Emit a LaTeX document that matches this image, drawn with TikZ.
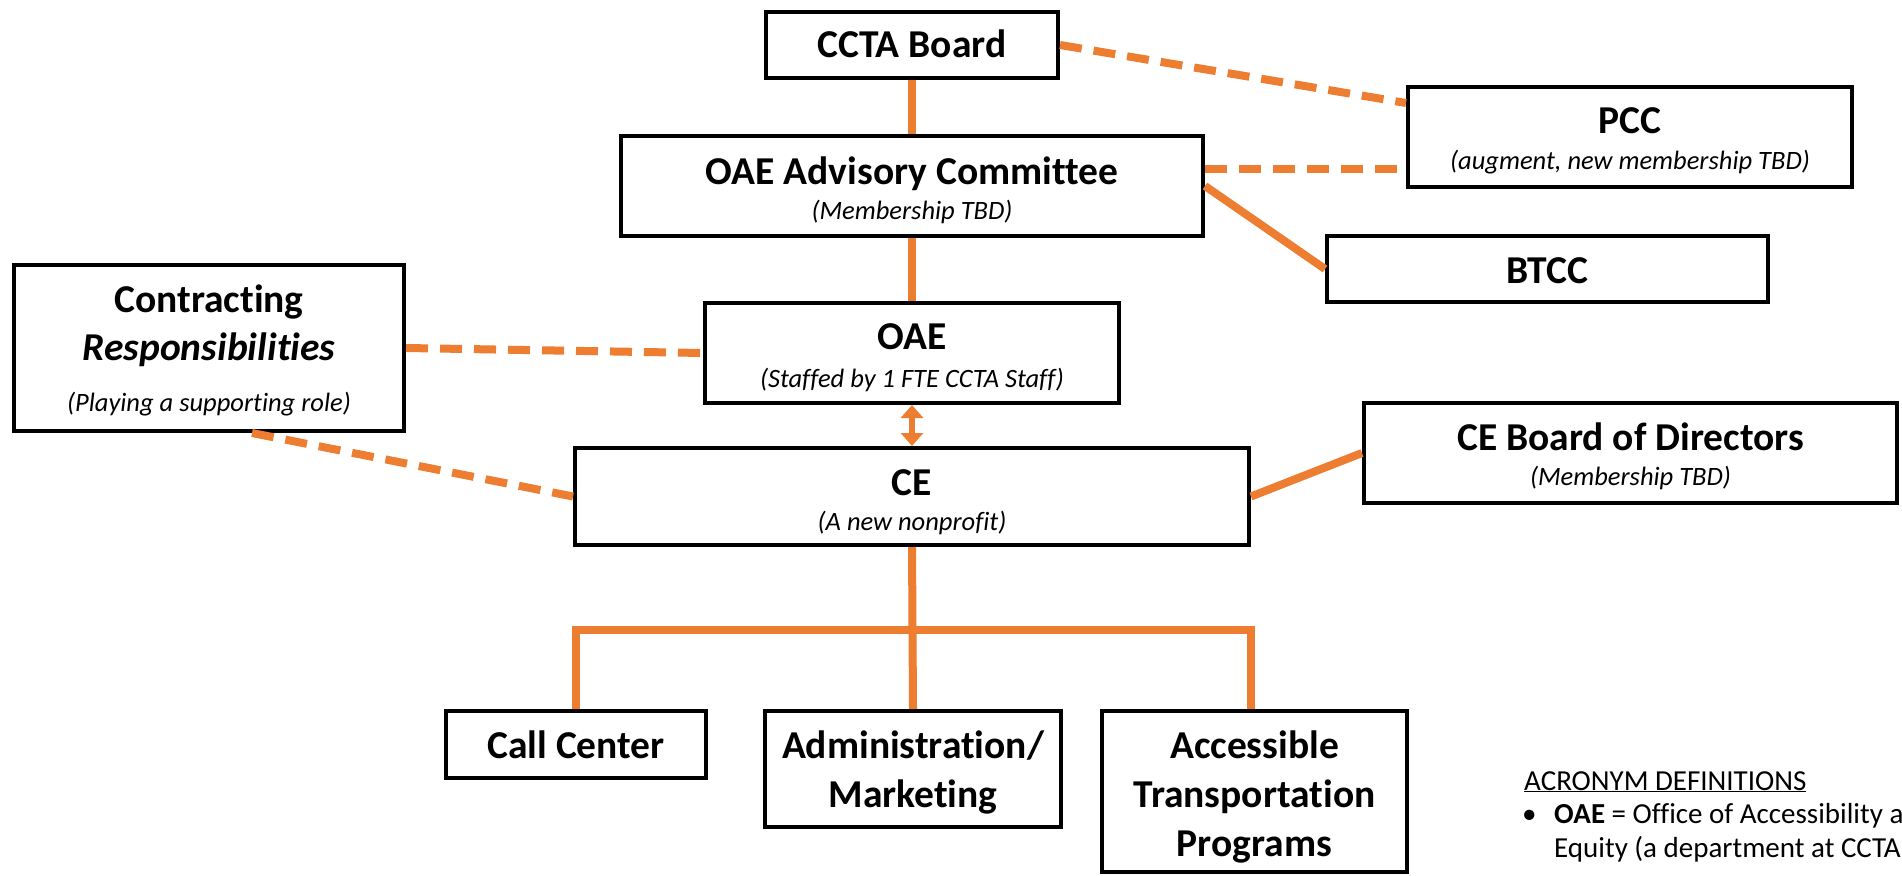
\documentclass[tikz,border=0pt]{standalone}
\usepackage{fontspec}
\setmainfont{Carlito}[Ligatures=NoCommon]
\usetikzlibrary{arrows.meta}
\definecolor{orgline}{HTML}{ED7D31}
\tikzset{
  box/.style={draw=black, line width=4pt, fill=white, inner sep=0pt},
  ttl/.style={font=\bfseries\fontsize{39.5}{44}\selectfont, inner sep=0pt, anchor=base},
  sub/.style={font=\itshape\fontsize{26.5}{30}\selectfont, inner sep=0pt, anchor=base},
  leg/.style={font=\fontsize{29}{34}\selectfont, inner sep=0pt, anchor=base west},
  solidlink/.style={draw=orgline, line width=8pt},
  dashlink/.style={draw=orgline, line width=8pt, dash pattern=on 22pt off 12pt},
}
\begin{document}
\begin{tikzpicture}[x=1pt,y=-1pt]
\useasboundingbox (0,0) rectangle (1902,875);
\fill[white] (0,0) rectangle (1902,875);

% boxes
\node[box, minimum width=292pt, minimum height=66pt]  (ccta)  at (912,45) {};
\node[box, minimum width=582pt, minimum height=100pt] (oaeac) at (912,186) {};
\node[box, minimum width=444pt, minimum height=100pt] (pcc)   at (1630,137) {};
\node[box, minimum width=441pt, minimum height=66pt]  (btcc)  at (1547.5,269) {};
\node[box, minimum width=390pt, minimum height=166pt] (contr) at (209,348) {};
\node[box, minimum width=414pt, minimum height=100pt] (oae)   at (912,353) {};
\node[box, minimum width=674pt, minimum height=97pt]  (ce)    at (912,496.5) {};
\node[box, minimum width=533pt, minimum height=100pt] (ceb)   at (1630.5,453) {};
\node[box, minimum width=260pt, minimum height=67pt]  (call)  at (576,744.5) {};
\node[box, minimum width=296pt, minimum height=116pt] (admin) at (913,769) {};
\node[box, minimum width=305pt, minimum height=161pt] (acc)   at (1254.5,791.5) {};

% texts
\node[ttl] (ccta-t)  at (912,58)  {CCTA Board};
\node[ttl] (oaeac-t) at (912,184) {OAE Advisory Committee};
\node[sub] (oaeac-s) at (912,219) {(Membership TBD)};
\node[ttl] (pcc-t)   at (1630,133) {PCC};
\node[sub] (pcc-s)   at (1630,169) {(augment, new membership TBD)};
\node[ttl] (btcc-t)  at (1547.5,283) {BTCC};
\node[ttl] (contr-t1) at (209,312) {Contracting};
\node[ttl] (contr-t2) at (209,360) {\itshape Responsibilities};
\node[sub] (contr-s) at (209,411) {(Playing a supporting role)};
\node[ttl] (oae-t)   at (912,349) {OAE};
\node[sub] (oae-s)   at (912,387) {(Staffed by 1 FTE CCTA Staff)};
\node[ttl] (ce-t)    at (912,495) {CE};
\node[sub] (ce-s)    at (912,530) {(A new nonprofit)};
\node[ttl] (ceb-t)   at (1630.5,450) {CE Board of Directors};
\node[sub] (ceb-s)   at (1630.5,485) {(Membership TBD)};
\node[ttl] (call-t)  at (576,758) {Call Center};
\node[ttl] (admin-t1) at (913,758) {Administration/};
\node[ttl] (admin-t2) at (913,807) {Marketing};
\node[ttl] (acc-t1)  at (1254.5,758) {Accessible};
\node[ttl] (acc-t2)  at (1254.5,807) {Transportation};
\node[ttl] (acc-t3)  at (1254.5,856) {Programs};

% connectors
\draw[solidlink] (ccta.south) -- (oaeac.north);
\draw[solidlink] (oaeac.south) -- (oae.north);
\draw[dashlink] (ccta.east) -- ([yshift=34pt]pcc.west);
\draw[dashlink] ([yshift=17pt]oaeac.east) -- ([yshift=17pt]oaeac.east -| pcc.west);
\draw[solidlink] (oaeac.east) -- (btcc.west);
\draw[dashlink] (contr.east) -- (oae.west);
\draw[dashlink] ([xshift=43pt]contr.south) -- (ce.west);
\draw[draw=orgline, line width=6pt, {Triangle[width=22pt,length=13pt]}-{Triangle[width=22pt,length=13pt]}, color=orgline] (oae.south) -- (ce.south |- ce.north);
\draw[solidlink] (ce.east) -- (ceb.west);
\coordinate (bar) at (912,630);
\draw[solidlink] (ce.south) -- (admin.north);
\draw[solidlink] (call.north) |- (bar) -| ([xshift=-4pt]acc.north);

% legend
\begin{scope}
\clip (0,0) rectangle (1902,875);
\node[leg] (leg-h) at (1524,790) {\underline{ACRONYM DEFINITIONS}};
\node[leg] (leg-b) at (1522,823) {\textbullet};
\node[leg] (leg-1) at (1554,823) {\textbf{OAE} = Office of Accessibility and};
\node[leg] (leg-2) at (1554,857) {Equity (a department at CCTA)};
\end{scope}
\end{tikzpicture}
\end{document}
